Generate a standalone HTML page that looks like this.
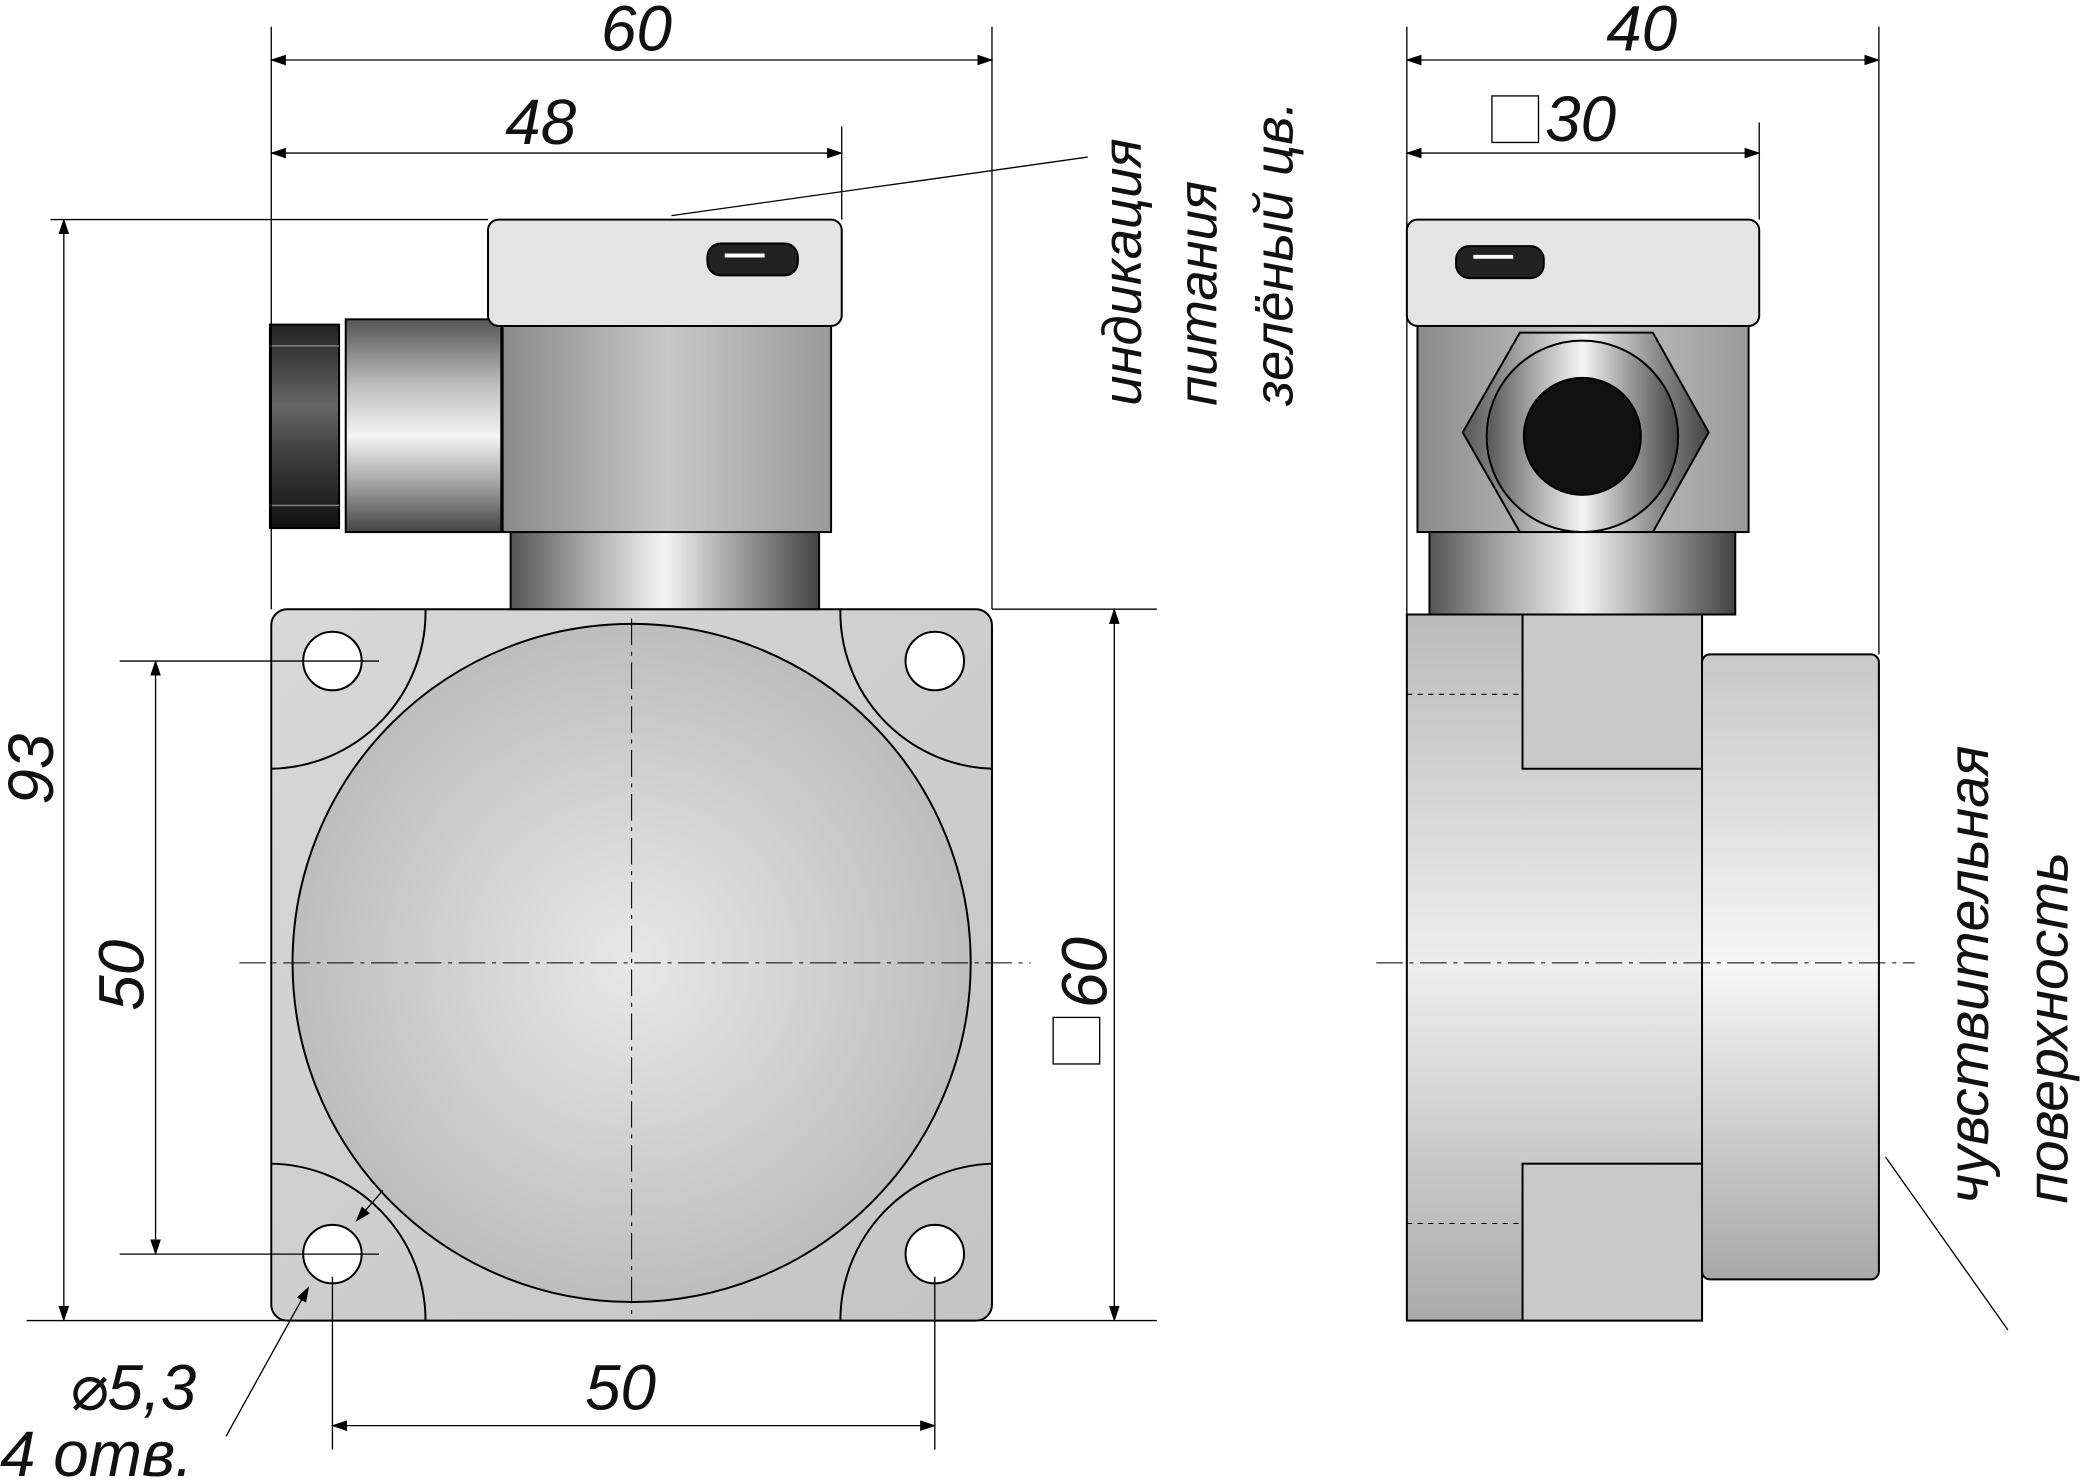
<!DOCTYPE html>
<html><head><meta charset="utf-8"><style>
html,body{margin:0;padding:0;background:#fff;}
svg{display:block;}
text{font-family:"Liberation Sans","DejaVu Sans",sans-serif;font-style:italic;fill:#111;}
</style></head><body>
<svg width="2085" height="1483" viewBox="0 0 1568 1115" xmlns="http://www.w3.org/2000/svg">
<defs>
<linearGradient id="plate" x1="0" y1="0" x2="1" y2="1"><stop offset="0" stop-color="#d8d8d8"/><stop offset="1" stop-color="#c4c4c4"/></linearGradient>
<linearGradient id="cylH" x1="0" y1="0" x2="1" y2="0"><stop offset="0" stop-color="#555"/><stop offset="0.25" stop-color="#aaa"/><stop offset="0.5" stop-color="#f4f4f4"/><stop offset="0.75" stop-color="#999"/><stop offset="1" stop-color="#444"/></linearGradient>
<linearGradient id="cylV" x1="0" y1="0" x2="0" y2="1"><stop offset="0" stop-color="#555"/><stop offset="0.3" stop-color="#bbb"/><stop offset="0.55" stop-color="#f4f4f4"/><stop offset="0.8" stop-color="#999"/><stop offset="1" stop-color="#444"/></linearGradient>
<linearGradient id="nut" x1="0" y1="0" x2="0" y2="1"><stop offset="0" stop-color="#222"/><stop offset="0.4" stop-color="#666"/><stop offset="0.6" stop-color="#444"/><stop offset="1" stop-color="#111"/></linearGradient>
<linearGradient id="box" x1="0" y1="0" x2="1" y2="0"><stop offset="0" stop-color="#8a8a8a"/><stop offset="0.5" stop-color="#c8c8c8"/><stop offset="1" stop-color="#9a9a9a"/></linearGradient>
<linearGradient id="body2" x1="0" y1="0" x2="0" y2="1"><stop offset="0" stop-color="#bbb"/><stop offset="0.5" stop-color="#eee"/><stop offset="1" stop-color="#aaa"/></linearGradient>
<linearGradient id="cap2" x1="0" y1="0" x2="0" y2="1"><stop offset="0" stop-color="#c8c8c8"/><stop offset="0.5" stop-color="#f6f6f6"/><stop offset="1" stop-color="#a8a8a8"/></linearGradient>
<radialGradient id="disc" cx="0.5" cy="0.5" r="0.5"><stop offset="0" stop-color="#e8e8e8"/><stop offset="1" stop-color="#bdbdbd"/></radialGradient>
<marker id="a" markerWidth="12" markerHeight="8" refX="11" refY="4" orient="auto-start-reverse" markerUnits="userSpaceOnUse"><path d="M0,0 L12,4 L0,8 Z" fill="#000"/></marker>
</defs>
<g stroke="#000" stroke-width="1.5">
<rect x="204" y="458" width="542" height="535" rx="12" fill="url(#plate)"/>
<path d="M204 578 A118 118 0 0 0 320 458 M746 578 A118 118 0 0 1 632 458 M204 875 A118 118 0 0 1 320 993 M746 875 A118 118 0 0 0 632 993" fill="none"/>
<circle cx="475" cy="724" r="255" fill="url(#disc)"/>
<circle cx="250" cy="497" r="22" fill="#fff"/><circle cx="703" cy="497" r="22" fill="#fff"/>
<circle cx="250" cy="943" r="22" fill="#fff"/><circle cx="703" cy="943" r="22" fill="#fff"/>
<rect x="384" y="398" width="232" height="60" fill="url(#cylH)"/>
<rect x="378" y="245" width="247" height="155" fill="url(#box)"/>
<rect x="260" y="240" width="117" height="160" fill="url(#cylV)"/>
<rect x="203" y="244" width="52" height="153" fill="url(#nut)"/>
<path d="M203 260 H255 M203 380 H255" fill="none" stroke-width="1" stroke="#888"/>
<rect x="367" y="165" width="266" height="80" rx="8" fill="#e4e4e4"/>
<rect x="532" y="183" width="68" height="24" rx="10" fill="#222"/>
<line x1="545" y1="192" x2="575" y2="192" stroke="#fff" stroke-width="3"/>
<rect x="1058" y="165" width="265" height="80" rx="8" fill="#e4e4e4"/>
<rect x="1095" y="185" width="66" height="24" rx="10" fill="#222"/>
<line x1="1108" y1="193" x2="1138" y2="193" stroke="#fff" stroke-width="3"/>
<rect x="1066" y="245" width="249" height="155" fill="url(#box)"/>
<polygon points="1143,250 1243,250 1285,325 1243,400 1143,400 1100,325" fill="url(#cylH)"/>
<circle cx="1190" cy="328" r="72" fill="url(#cylH)"/>
<circle cx="1190" cy="328" r="44" fill="#111"/>
<rect x="1075" y="400" width="230" height="62" fill="url(#cylH)"/>
<rect x="1058" y="462" width="222" height="531" fill="url(#body2)"/>
<rect x="1145" y="462" width="135" height="116" fill="#c9c9c9"/>
<rect x="1145" y="875" width="135" height="118" fill="#c9c9c9"/>
<rect x="1280" y="492" width="133" height="470" rx="6" fill="url(#cap2)"/>
</g>
<g stroke="#000" stroke-width="0.8" stroke-dasharray="20,5,3,5" fill="none">
<line x1="180" y1="724" x2="775" y2="724"/><line x1="475" y1="465" x2="475" y2="990"/>
<line x1="1035" y1="724" x2="1440" y2="724"/>
<line x1="1058" y1="522" x2="1145" y2="522" stroke-dasharray="4,4"/>
<line x1="1058" y1="920" x2="1145" y2="920" stroke-dasharray="4,4"/>
</g>
<g stroke="#000" stroke-width="1" fill="none">
<line x1="204" y1="20" x2="204" y2="458"/><line x1="746" y1="20" x2="746" y2="458"/>
<line x1="633" y1="95" x2="633" y2="165"/>
<line x1="38" y1="165" x2="367" y2="165"/><line x1="20" y1="993" x2="870" y2="993"/>
<line x1="90" y1="497" x2="285" y2="497"/><line x1="90" y1="943" x2="285" y2="943"/>
<line x1="746" y1="458" x2="870" y2="458"/>
<line x1="250" y1="960" x2="250" y2="1090"/><line x1="703" y1="960" x2="703" y2="1090"/>
<line x1="204" y1="45" x2="746" y2="45" marker-start="url(#a)" marker-end="url(#a)"/>
<line x1="204" y1="115" x2="633" y2="115" marker-start="url(#a)" marker-end="url(#a)"/>
<line x1="48" y1="165" x2="48" y2="993" marker-start="url(#a)" marker-end="url(#a)"/>
<line x1="117" y1="497" x2="117" y2="943" marker-start="url(#a)" marker-end="url(#a)"/>
<line x1="838" y1="458" x2="838" y2="993" marker-start="url(#a)" marker-end="url(#a)"/>
<line x1="250" y1="1072" x2="703" y2="1072" marker-start="url(#a)" marker-end="url(#a)"/>
<line x1="505" y1="162" x2="818" y2="118"/>
<line x1="288" y1="895" x2="268" y2="918" marker-end="url(#a)"/>
<line x1="170" y1="1080" x2="232" y2="968" marker-end="url(#a)"/>
<line x1="1058" y1="20" x2="1058" y2="462"/><line x1="1413" y1="20" x2="1413" y2="492"/>
<line x1="1323" y1="92" x2="1323" y2="165"/>
<line x1="1058" y1="45" x2="1413" y2="45" marker-start="url(#a)" marker-end="url(#a)"/>
<line x1="1058" y1="115" x2="1323" y2="115" marker-start="url(#a)" marker-end="url(#a)"/>
<line x1="1418" y1="870" x2="1510" y2="1000"/>
<rect x="1122" y="72" width="35" height="35"/>
<rect x="792" y="765" width="35" height="35"/>
</g>
<g font-size="48">
<text x="452" y="38">60</text>
<text x="380" y="108">48</text>
<text x="1208" y="38">40</text>
<text x="1162" y="106">30</text>
<text x="440" y="1060">50</text>
<text x="52" y="1060">⌀5,3</text>
<text x="0" y="1110">4 отв.</text>
<text transform="translate(40,605) rotate(-90)">93</text>
<text transform="translate(108,760) rotate(-90)">50</text>
<text transform="translate(832,758) rotate(-90)">60</text>
<text transform="translate(858,305) rotate(-90)" font-size="41">индикация</text>
<text transform="translate(915,305) rotate(-90)" font-size="41">питания</text>
<text transform="translate(972,305) rotate(-90)" font-size="41">зелёный цв.</text>
<text transform="translate(1495,905) rotate(-90)" font-size="43">чувствительная</text>
<text transform="translate(1555,905) rotate(-90)" font-size="43">поверхность</text>
</g>
</svg>
</body></html>
